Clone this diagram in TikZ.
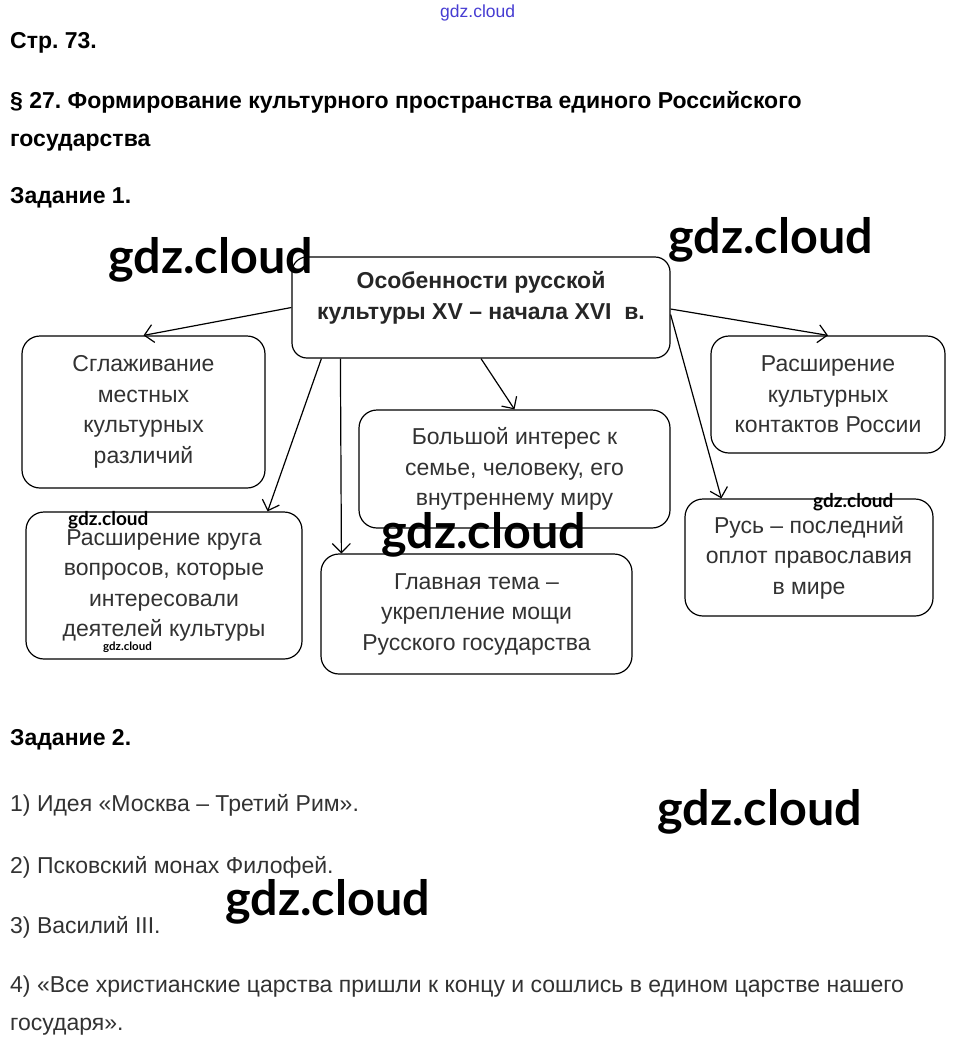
\documentclass[tikz,border=0pt]{standalone}
\usepackage{fontspec}
\setmainfont{Liberation Sans}
\newfontfamily\wmfont{Lato}
\usetikzlibrary{arrows.meta}
\frenchspacing
\definecolor{boxgray}{RGB}{50,50,50}
\definecolor{wmblue}{RGB}{70,60,210}
\tikzset{
  itembox/.style={
    draw,
    rounded corners=18pt,
    line width=1.2pt,
    align=center,
    inner sep=0pt,
    text=boxgray,
    font=\fontsize{23}{30.5}\selectfont
  },
  headbox/.style={itembox,rounded corners=15pt},
  linkarrow/.style={-{Straight Barb[length=9pt,width=18pt]},line width=1.2pt},
  headline/.style={anchor=base west,inner sep=0pt,font=\fontsize{23}{27}\selectfont\bfseries},
  answer/.style={anchor=base west,inner sep=0pt,text=boxgray,font=\fontsize{23}{27}\selectfont},
  watermark/.style={anchor=base west,inner sep=0pt,font=\wmfont\bfseries\fontsize{48.5}{48}\selectfont},
  smallmark/.style={watermark,font=\wmfont\bfseries\fontsize{19}{19}\selectfont},
}
\begin{document}
\begin{tikzpicture}[x=1pt,y=-1pt]
  \useasboundingbox (0,0) rectangle (957,1047);

  % Page header
  \node[headline] (page) at (10,48) {Стр. 73.};
  \node[headline] (par1) at (10,108) {§ 27. Формирование культурного пространства единого Российского};
  \node[headline] (par2) at (10,146) {государства};
  \node[headline] (task1) at (10,203) {Задание 1.};

  % Scheme
  \node[headbox,minimum width=378pt,minimum height=101pt] (head) at (481,307.5) {};
  \node[inner sep=0pt,align=center,font=\fontsize{23}{31}\selectfont\bfseries,text=black!85] (headtext) at (481,298) {Особенности русской\\культуры XV – начала XVI\ \ в.};
  \node[itembox,minimum width=243pt,minimum height=152pt] (smooth) at (143.5,412) {Сглаживание\\местных\\культурных\\различий};
  \node[itembox,minimum width=234pt,minimum height=117pt] (contacts) at (828,394.5) {Расширение\\культурных\\контактов России};
  \node[itembox,minimum width=311pt,minimum height=118pt] (family) at (514.5,469) {Большой интерес к\\семье, человеку, его\\внутреннему миру};
  \node[itembox,minimum width=276pt,minimum height=147pt] (widen) at (164,585.5) {Расширение круга\\вопросов, которые\\интересовали\\деятелей культуры};
  \node[itembox,minimum width=311pt,minimum height=120pt] (theme) at (476.5,614) {Главная тема –\\укрепление мощи\\Русского государства};
  \node[itembox,minimum width=248pt,minimum height=117pt] (rus) at (809,557.5) {Русь – последний\\оплот православия\\в мире};

  \draw[linkarrow] (head.west) -- (smooth.north);
  \draw[linkarrow] ([xshift=30pt]head.south west) -- ([xshift=-35pt]widen.north east);
  \draw[linkarrow] ([xshift=49pt]head.south west) -- ([xshift=21pt]theme.north west);
  \draw[linkarrow] (head.south) -- (family.north);
  \draw[linkarrow] ([yshift=-1.5pt]head.east) -- (contacts.north);
  \draw[linkarrow] ([yshift=-7pt]head.east) -- ([xshift=37pt]rus.north west);

  % Task 2
  \node[headline] (task2) at (10,745) {Задание 2.};
  \node[answer] (ans1) at (10,811) {1) Идея «Москва – Третий Рим».};
  \node[answer] (ans2) at (10,873) {2) Псковский монах Филофей.};
  \node[answer] (ans3) at (10,933) {3) Василий III.};
  \node[answer] (ans4) at (10,992) {4) «Все христианские царства пришли к концу и сошлись в едином царстве нашего};
  \node[answer] (ans5) at (10,1030) {государя».};

  % Watermarks
  \node[smallmark,text=wmblue,font=\fontsize{17.5}{17}\selectfont] (wm0) at (440,17) {gdz.cloud};
  \node[watermark] (wm1) at (108,273) {gdz.cloud};
  \node[watermark] (wm2) at (668,253) {gdz.cloud};
  \node[watermark] (wm3) at (381,548) {gdz.cloud};
  \node[watermark] (wm4) at (657,825) {gdz.cloud};
  \node[watermark] (wm5) at (225,915) {gdz.cloud};
  \node[smallmark] (wm6) at (68,525) {gdz.cloud};
  \node[smallmark] (wm7) at (813,507) {gdz.cloud};
  \node[smallmark,font=\wmfont\bfseries\fontsize{11.5}{12}\selectfont] (wm8) at (103,650) {gdz.cloud};
\end{tikzpicture}
\end{document}
